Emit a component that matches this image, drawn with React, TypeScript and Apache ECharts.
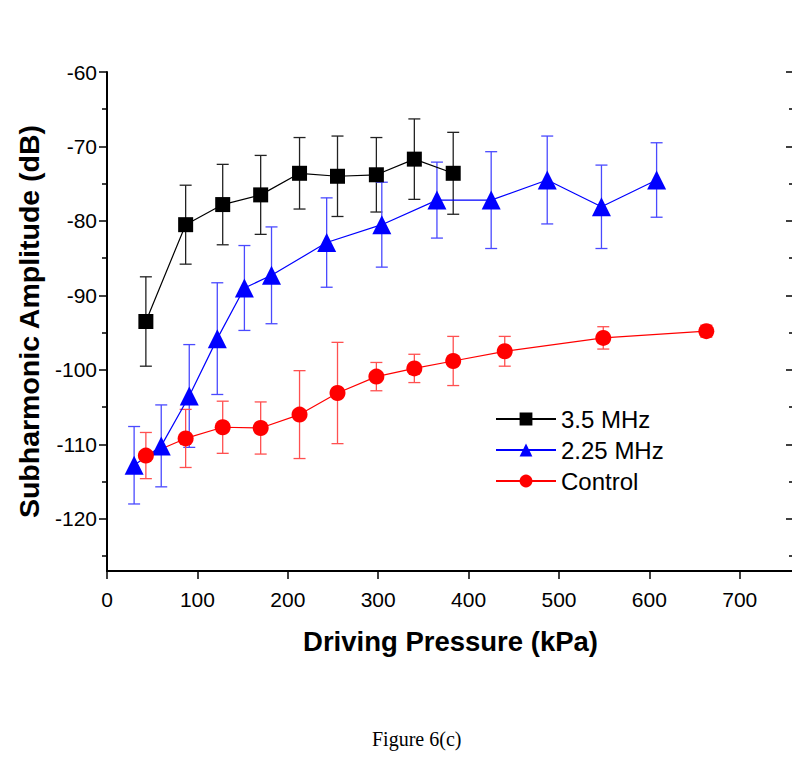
import React, { useEffect, useRef } from "react";
import * as echarts from "echarts";

// ---------- data ----------
const seriesNames = ["3.5 MHz", "2.25 MHz", "Control"];

const x35 = [43, 87, 128, 170, 213, 255, 298, 340, 383];
const y35 = [-93.5, -80.5, -77.8, -76.5, -73.6, -74.0, -73.8, -71.7, -73.6];
const e35 = [6.0, 5.3, 5.4, 5.3, 4.8, 5.4, 5.0, 5.4, 5.5];

const x225 = [30, 60, 91, 122, 152, 182, 243, 304, 365, 425, 487, 547, 608];
const y225 = [-112.8, -110.2, -103.5, -95.8, -89.0, -87.3, -82.9, -80.5, -77.2, -77.2, -74.5, -78.1, -74.5];
const e225 = [5.2, 5.5, 6.9, 7.5, 5.7, 6.5, 6.0, 5.7, 5.1, 6.5, 5.9, 5.6, 5.0];

const xCtl = [43, 87, 128, 170, 213, 255, 298, 340, 383, 440, 549, 663];
const yCtl = [-111.5, -109.2, -107.7, -107.8, -106.0, -103.1, -100.9, -99.8, -98.8, -97.5, -95.7, -94.8];
const eCtl = [3.1, 3.9, 3.5, 3.5, 5.9, 6.8, 1.9, 1.9, 3.3, 2.0, 1.5, 0.8];

const xTicks = [0, 100, 200, 300, 400, 500, 600, 700];
const yTicks = [-120, -110, -100, -90, -80, -70, -60];
const yMinorTicks = [-125, -115, -105, -95, -85, -75, -65];

const xName = "Driving Pressure (kPa)";
const yName = "Subharmonic Amplitude (dB)";
const caption = "Figure 6(c)";

// ---------- helpers ----------
const pts = (xs: number[], ys: number[]) => xs.map((x, i) => [x, ys[i]]);
const bars = (xs: number[], ys: number[], es: number[]) =>
  xs.map((x, i) => [x, ys[i] - es[i], ys[i] + es[i]]);

const errSeries = (data: number[][], color: string) => ({
  type: "custom",
  z: 1,
  silent: true,
  data,
  encode: { x: 0, y: [1, 2] },
  renderItem: (params: any, api: any) => {
    const x = api.value(0);
    const lo = api.coord([x, api.value(1)]);
    const hi = api.coord([x, api.value(2)]);
    const hw = 6;
    const style = { stroke: color, lineWidth: 1.3 };
    return {
      type: "group",
      children: [
        { type: "line", shape: { x1: lo[0], y1: lo[1], x2: hi[0], y2: hi[1] }, style },
        { type: "line", shape: { x1: hi[0] - hw, y1: hi[1], x2: hi[0] + hw, y2: hi[1] }, style },
        { type: "line", shape: { x1: lo[0] - hw, y1: lo[1], x2: lo[0] + hw, y2: lo[1] }, style },
      ],
    };
  },
});

const FONT = "Liberation Sans, Arial, sans-serif";
const Y_MIN = -127;
const Y_MAX = -60;

export default function App() {
  const ref = useRef<HTMLDivElement>(null);
  useEffect(() => {
    if (!ref.current) return;
    const chart = echarts.init(ref.current, undefined, { renderer: "svg" });
    const tickStyle = { color: "#000", width: 1.5 };
    const baseY = {
      type: "value",
      min: Y_MIN,
      max: Y_MAX,
      splitLine: { show: false },
    };
    chart.setOption({
      animation: false,
      backgroundColor: "#fff",
      grid: { left: 107, right: 6, top: 72, bottom: 190 },
      legend: {
        orient: "vertical",
        left: 490,
        top: 402,
        itemWidth: 60,
        itemHeight: 16,
        itemGap: 7,
        data: seriesNames,
        textStyle: { fontFamily: FONT, fontSize: 24, color: "#000" },
      },
      xAxis: {
        type: "value",
        min: 0,
        max: 760,
        interval: 100,
        name: xName,
        nameLocation: "middle",
        nameGap: 56,
        nameTextStyle: { fontFamily: FONT, fontSize: 27.5, fontWeight: "bold", color: "#000" },
        splitLine: { show: false },
        axisLine: { onZero: false, lineStyle: { color: "#000", width: 2 } },
        axisTick: { length: 8, lineStyle: tickStyle, customValues: xTicks },
        axisLabel: {
          fontFamily: FONT,
          fontSize: 21,
          color: "#000",
          margin: 18,
          customValues: xTicks,
        },
      },
      yAxis: [
        {
          ...baseY,
          position: "left",
          name: yName,
          nameLocation: "middle",
          nameGap: 64,
          nameTextStyle: { fontFamily: FONT, fontSize: 28.5, fontWeight: "bold", color: "#000" },
          axisLine: { show: true, onZero: false, lineStyle: { color: "#000", width: 2 } },
          axisTick: { show: true, length: 8, lineStyle: tickStyle, customValues: yTicks },
          axisLabel: {
            fontFamily: FONT,
            fontSize: 21,
            color: "#000",
            margin: 10,
            customValues: yTicks,
          },
        },
        {
          ...baseY,
          position: "left",
          axisLine: { show: false },
          axisTick: { show: true, length: 5, lineStyle: tickStyle, customValues: yMinorTicks },
          axisLabel: { show: false },
        },
        {
          ...baseY,
          position: "right",
          axisLine: { show: true, onZero: false, lineStyle: { color: "#000", width: 2 } },
          axisTick: { show: true, inside: true, length: 8, lineStyle: tickStyle, customValues: yTicks },
          axisLabel: { show: false },
        },
        {
          ...baseY,
          position: "right",
          axisLine: { show: false },
          axisTick: { show: true, inside: true, length: 5, lineStyle: tickStyle, customValues: yMinorTicks },
          axisLabel: { show: false },
        },
      ],
      series: [
        errSeries(bars(x35, y35, e35), "#222"),
        errSeries(bars(x225, y225, e225), "#4a4aff"),
        errSeries(bars(xCtl, yCtl, eCtl), "#ff5050"),
        {
          name: seriesNames[0],
          type: "line",
          z: 3,
          data: pts(x35, y35),
          symbol: "rect",
          symbolSize: 15,
          itemStyle: { color: "#000" },
          lineStyle: { color: "#000", width: 1.2 },
        },
        {
          name: seriesNames[1],
          type: "line",
          z: 3,
          data: pts(x225, y225),
          symbol: "triangle",
          symbolSize: 19,
          itemStyle: { color: "#0000ff" },
          lineStyle: { color: "#0000ff", width: 1.2 },
        },
        {
          name: seriesNames[2],
          type: "line",
          z: 3,
          data: pts(xCtl, yCtl),
          symbol: "circle",
          symbolSize: 16,
          itemStyle: { color: "#ff0000" },
          lineStyle: { color: "#ff0000", width: 1.2 },
        },
      ],
      graphic: [
        {
          type: "text",
          left: 372,
          top: 729,
          style: { text: caption, fontFamily: "Liberation Serif, Times New Roman, serif", fontSize: 20, fill: "#000" },
        },
      ],
    });
    return () => chart.dispose();
  }, []);
  return <div ref={ref} style={{ width: 800, height: 761, margin: -8 }} />;
}
